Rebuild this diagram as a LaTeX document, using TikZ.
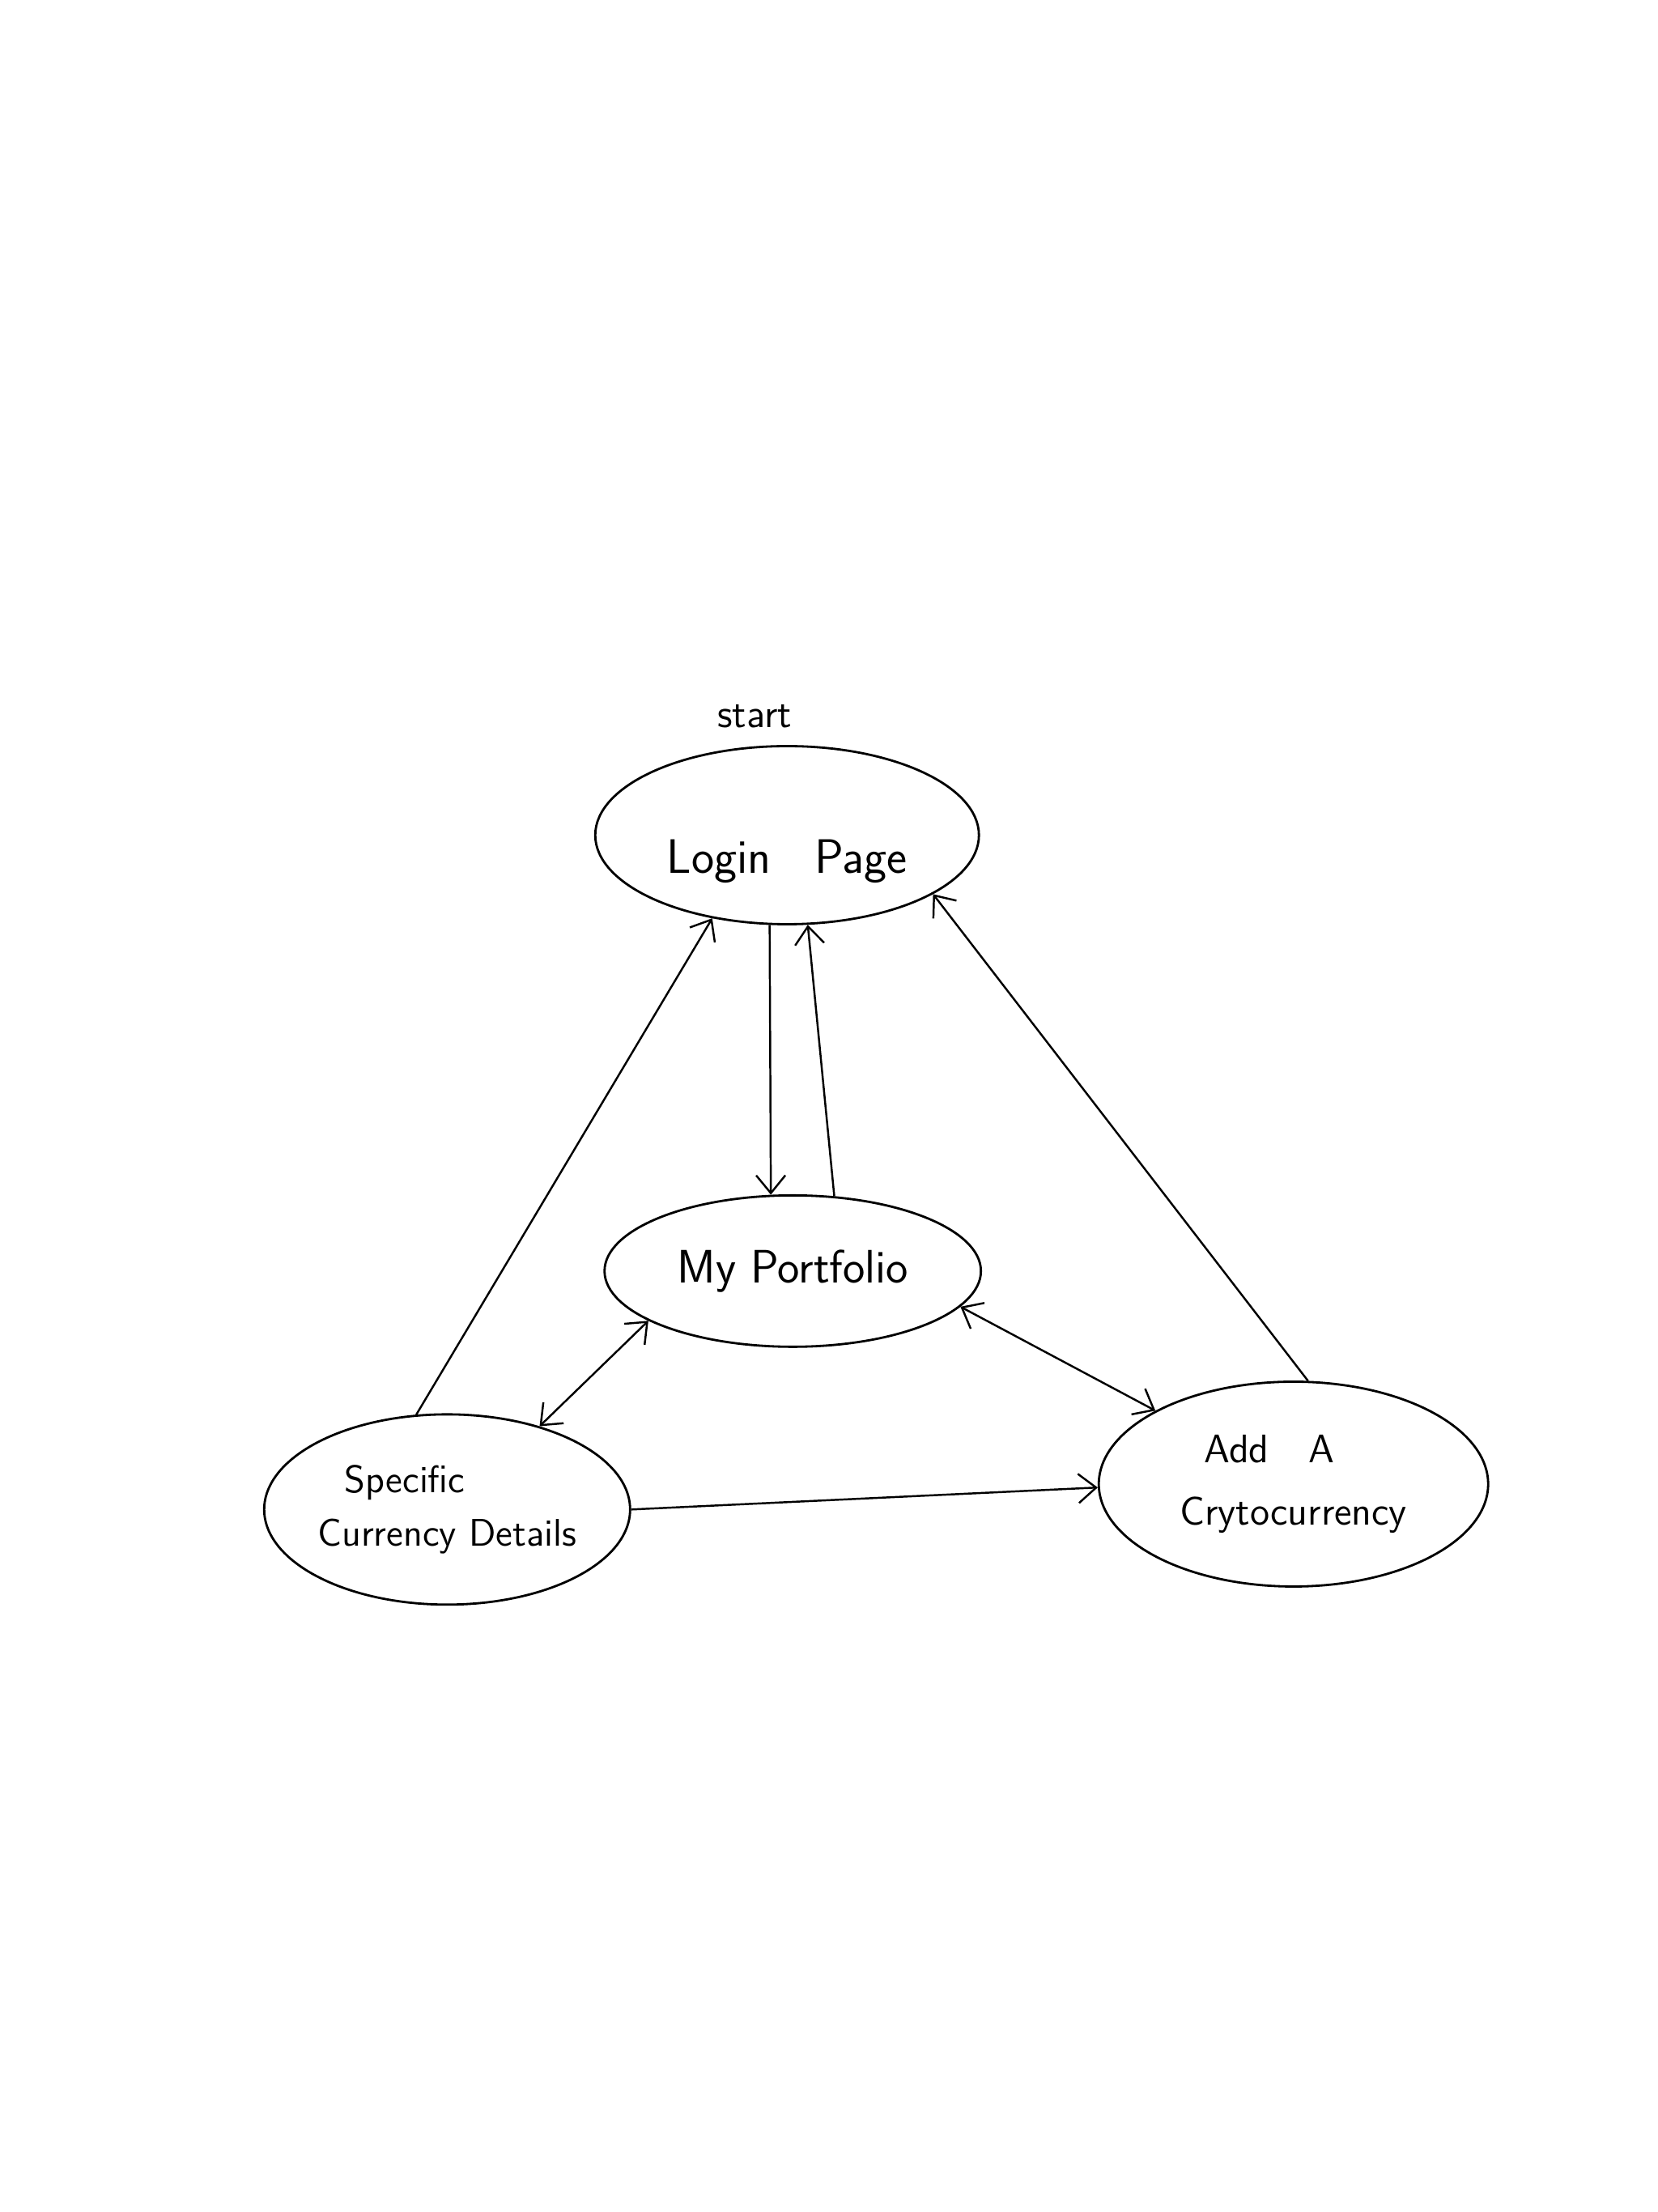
\documentclass[tikz,border=0pt]{standalone}
\usetikzlibrary{shapes.geometric,arrows.meta}
\begin{document}
\begin{tikzpicture}[x=0.01743cm,y=-0.01743cm,
  state/.style={draw,ellipse,line width=0.8pt,inner sep=0pt,align=center,font=\sffamily},
  conn/.style={line width=0.7pt},
  tip/.style={-{Straight Barb[length=2.2mm,width=3.6mm]}},
  tips/.style={{Straight Barb[length=2.2mm,width=3.6mm]}-{Straight Barb[length=2.2mm,width=3.6mm]}}]
\useasboundingbox (0,0) rectangle (1175,1568);
\node[state,minimum width=4.74cm,minimum height=2.20cm,font=\sffamily\fontsize{17}{20}\selectfont] (login) at (558,592) {\raisebox{-9pt}[0.7em][0.2em]{Login\hspace{0.9em}Page}};
\node[font=\sffamily\fontsize{14}{16}\selectfont] (start) at (535,508) {start};
\node[state,minimum width=4.65cm,minimum height=1.87cm,font=\sffamily\fontsize{16.5}{19}\selectfont] (port) at (562,901) {My Portfolio};
\node[state,minimum width=4.46cm,minimum height=2.35cm,font=\sffamily\fontsize{13.5}{19}\selectfont] (spec) at (317,1070) {\hspace{-2.2em}Specific\\Currency Details};
\node[state,minimum width=4.81cm,minimum height=2.53cm,font=\sffamily\fontsize{14}{22}\selectfont] (add) at (917,1052) {\hspace{-1.2em}Add\hspace{1em}A\\Crytocurrency};
\draw[conn,tip] (login.-101) -- (port.106);
\draw[conn,tip] (port.61) -- (login.-77);
\draw[conn,tip] (spec.108) -- (login.-132);
\draw[conn,tip] (add.82) -- (login.-22);
\draw[conn,tips] (port.-161) -- (spec.42);
\draw[conn,tips] (port.-12.5) -- (add.152);
\draw[conn,tip] (spec.0) -- (add.181);
\end{tikzpicture}
\end{document}
